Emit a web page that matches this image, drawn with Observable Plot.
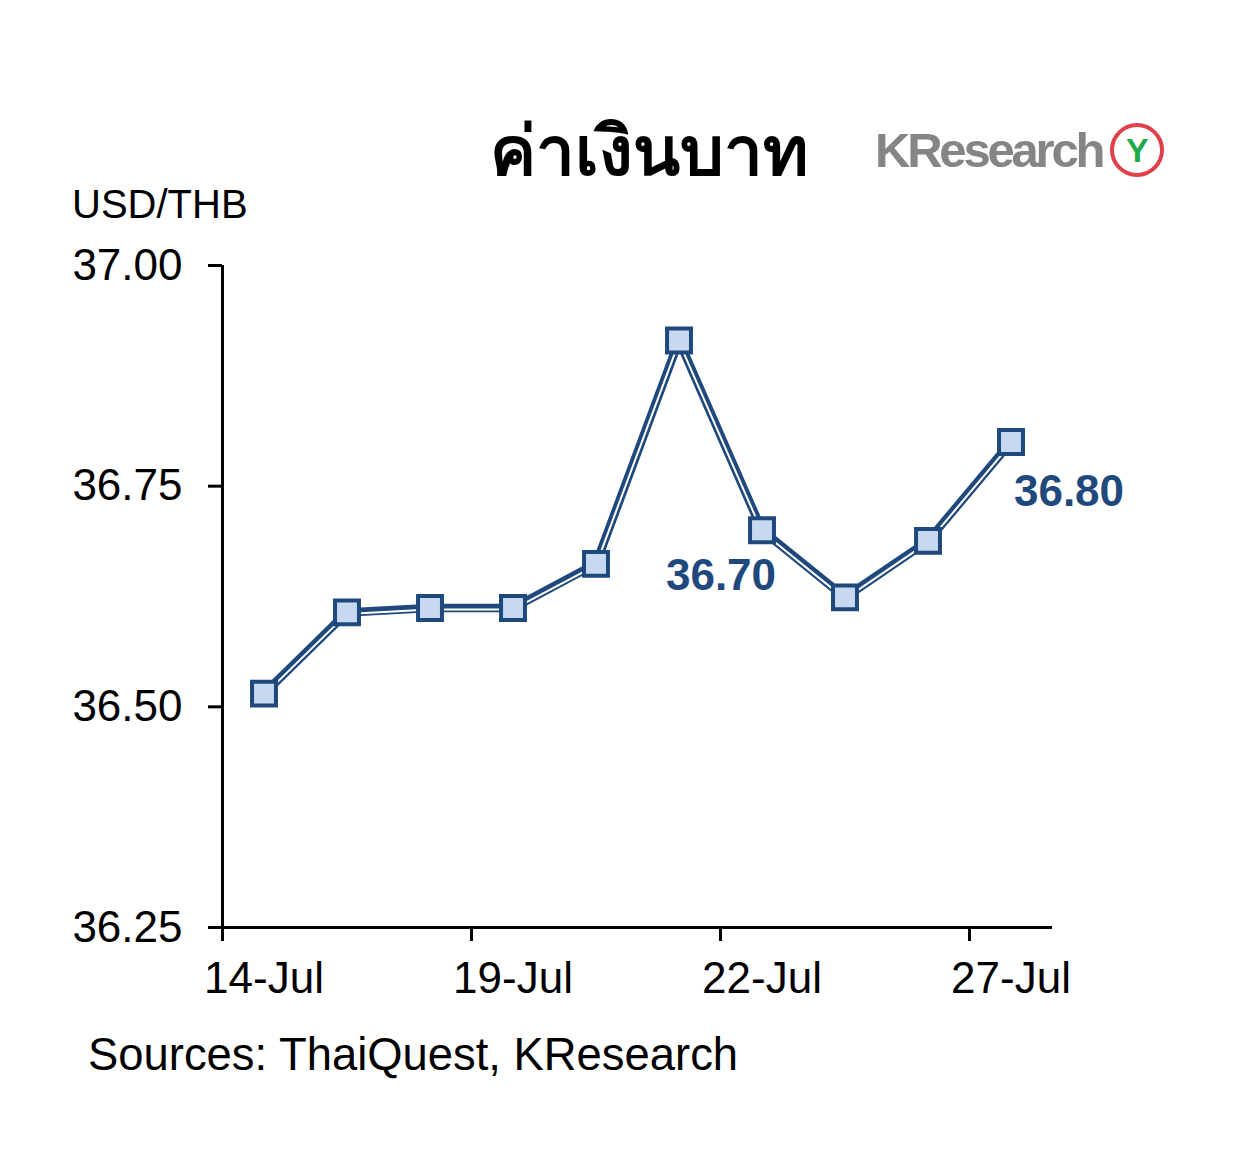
<!DOCTYPE html>
<html>
<head>
<meta charset="utf-8">
<script src="https://cdn.jsdelivr.net/npm/d3@7"></script>
<script src="https://cdn.jsdelivr.net/npm/@observablehq/plot@0.6"></script>
<style>
  html, body { margin: 0; padding: 0; background: #fff; }
  #wrap { position: relative; width: 1258px; height: 1165px; font-family: "Liberation Sans", Arial, sans-serif; }
  #wrap svg { position: absolute; left: 0; top: 0; }
  .ov { position: absolute; white-space: nowrap; color: #000; }
  #title { left: 490px; top: 96px; font-size: 69px; font-weight: bold; font-family: "Noto Sans", "DejaVu Sans", sans-serif; }
  #unit { left: 72px; top: 182px; font-size: 40px; }
  #src { left: 88px; top: 1029px; font-size: 45.4px; }
  #logo { left: 875px; top: 122px; font-size: 49px; font-weight: bold; color: #858585; letter-spacing: -3.2px; font-family: "Liberation Sans", sans-serif; display: flex; align-items: center; }
  #logo .c { display: inline-block; width: 46px; height: 46px; border: 4px solid #e0404a; border-radius: 50%; margin-left: 8px; color: #1faa4a; font-size: 34px; text-align: center; line-height: 46px; letter-spacing: 0; }
</style>
</head>
<body>
<div id="wrap">
  <div class="ov" id="title">ค่าเงินบาท</div>
  <div class="ov" id="logo">KResearch<span class="c">Y</span></div>
  <div class="ov" id="unit">USD/THB</div>
  <div class="ov" id="src">Sources: ThaiQuest, KResearch</div>
</div>
<script>
const dates = ["14-Jul","15-Jul","18-Jul","19-Jul","20-Jul","21-Jul","22-Jul","25-Jul","26-Jul","27-Jul"];
const rates = [36.515, 36.607, 36.612, 36.612, 36.662, 36.915, 36.70, 36.624, 36.688, 36.80];
const labelledDates = ["22-Jul", "27-Jul"];
const labelText = ["36.70", "36.80"];
const yTicks = [36.25, 36.50, 36.75, 37.00];
const xLabelDates = ["14-Jul", "19-Jul", "22-Jul", "27-Jul"];

const data = dates.map((d, i) => ({i, date: d, rate: rates[i]}));
const xTickPos = xLabelDates.map(d => dates.indexOf(d) - 0.5);
const xLabelPos = xLabelDates.map(d => dates.indexOf(d));
const lab = labelledDates.map((d, k) => ({i: dates.indexOf(d), rate: rates[dates.indexOf(d)], text: labelText[k]}));

const navy = "#1f497d";

const chart = Plot.plot({
  width: 1258,
  height: 1165,
  marginLeft: 222,
  marginRight: 206,
  marginTop: 265,
  marginBottom: 238,
  style: {fontFamily: "Liberation Sans, Arial, sans-serif", fontSize: "44px", background: "transparent", color: "#000"},
  x: {domain: [-0.5, 9.5]},
  y: {domain: [36.25, 37.0]},
  marks: [
    Plot.axisY({ticks: yTicks, tickFormat: d3.format(".2f"), tickSize: 14, tickPadding: 26, stroke: "#000", fontSize: 44, label: null, strokeWidth: 3}),
    Plot.axisX({ticks: xTickPos, tickFormat: () => "", tickSize: 14, strokeWidth: 3, label: null}),
    Plot.axisX({ticks: xLabelPos, tickFormat: i => dates[i], tickSize: 0, tickPadding: 34, fontSize: 44, label: null}),
    Plot.ruleX([-0.5], {stroke: "#000", strokeWidth: 3}),
    Plot.ruleY([36.25], {stroke: "#000", strokeWidth: 3}),
    Plot.line(data, {x: "i", y: "rate", stroke: navy, strokeWidth: 8.5, strokeLinejoin: "round"}),
    Plot.line(data, {x: "i", y: "rate", stroke: "#fff", strokeWidth: 2, dy: 1.5}),
    Plot.dot(data, {x: "i", y: "rate", symbol: "square", r: 13.5, fill: "#c6d9f1", stroke: navy, strokeWidth: 4}),
    Plot.text(lab.slice(0, 1), {x: "i", y: "rate", text: "text", dx: -41, dy: 46, fill: navy, fontWeight: "bold", fontSize: 44}),
    Plot.text(lab.slice(1), {x: "i", y: "rate", text: "text", dx: 58, dy: 50, fill: navy, fontWeight: "bold", fontSize: 44})
  ]
});
document.getElementById("wrap").prepend(chart);
</script>
</body>
</html>
